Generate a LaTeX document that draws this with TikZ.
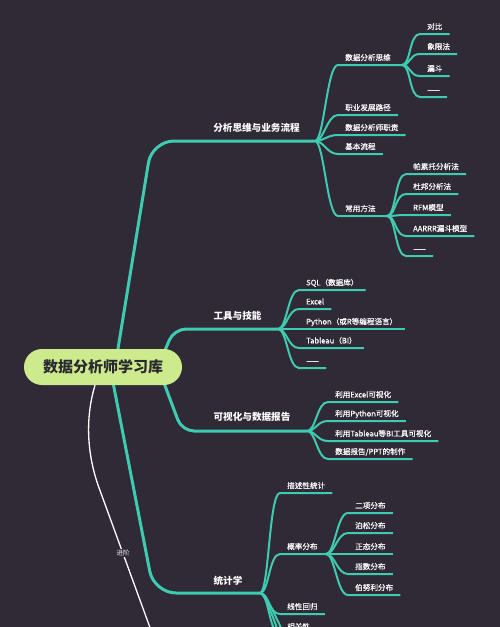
\documentclass[tikz,border=0pt]{standalone}
\usepackage{fontspec}
\setmainfont{Noto Sans CJK SC}
\newfontfamily\leaffont{Noto Sans CJK SC}[FakeBold=0.4]
\usetikzlibrary{backgrounds}
\definecolor{bgc}{HTML}{302936}
\definecolor{mmteal}{HTML}{3ECBB2}
\definecolor{rootfill}{HTML}{CDEA8C}
\definecolor{roottext}{HTML}{2B2930}
\begin{document}
\begin{tikzpicture}[x=1pt,y=-1pt,
  trunk/.style={draw=mmteal,line width=3pt,rounded corners=22pt},
  twig/.style={draw=mmteal,line width=2pt},
  br/.style={out=0,in=180,out distance=9pt,in distance=11pt},
  leaf/.style={anchor=south west,text=white,font=\leaffont\fontsize{7.6}{8}\selectfont,inner xsep=7pt,inner ysep=3.2pt,text height=6.5pt,text depth=1.2pt},
  mainlbl/.style={text=white,font=\bfseries\fontsize{9.6}{11}\selectfont,inner sep=0pt},
  rootbox/.style={fill=rootfill,rounded corners=18pt,minimum width=158pt,minimum height=36pt,text=roottext,font=\bfseries\fontsize{15}{17}\selectfont,inner sep=0pt},
  advlbl/.style={fill=bgc,text=white!90!gray,font=\fontsize{6.5}{7}\selectfont,inner sep=1pt}
]
\useasboundingbox (0,0) rectangle (500,627);
\clip (0,0) rectangle (500,627);

% root
\node[rootbox] (root) at (103,367) {数据分析师学习库};

% main branch labels
\node[mainlbl] (m1) at (256.5,128) {分析思维与业务流程};
\node[mainlbl] (m2) at (237.5,316) {工具与技能};
\node[mainlbl] (m3) at (252,417) {可视化与数据报告};
\node[mainlbl] (m4) at (228,581) {统计学};

% bends and fan points
\coordinate (k1) at (152,141); \coordinate (f1) at (315,141);
\coordinate (k2) at (174,329); \coordinate (f2) at (278,329);
\coordinate (k3) at (182,431); \coordinate (f3) at (307,431);
\coordinate (k4) at (154,593); \coordinate (f4) at (260,593);
\coordinate (f11) at (402,65);
\coordinate (f12) at (387,216);
\coordinate (f41) at (326,554);
\coordinate (adv) at (160,655);
\coordinate (s6) at (300,655);
\coordinate (s7) at (300,676);

% branch 1 children
\node[leaf] (c11) at (338,65) {数据分析思维};
\node[leaf] (c12) at (338,115) {职业发展路径};
\node[leaf] (c13) at (338,135) {数据分析师职责};
\node[leaf] (c14) at (338,154) {基本流程};
\node[leaf] (c15) at (338,216) {常用方法};
\node[leaf] (g11) at (420,34) {对比};
\node[leaf] (g12) at (420,54) {象限法};
\node[leaf] (g13) at (420,76) {漏斗};
\node[leaf] (g14) at (420,97) {——};
\node[leaf] (g21) at (406,174) {帕累托分析法};
\node[leaf] (g22) at (406,194) {杜邦分析法};
\node[leaf] (g23) at (406,215) {RFM模型};
\node[leaf] (g24) at (406,236) {AARRR漏斗模型};
\node[leaf] (g25) at (406,256) {——};

% tools
\node[leaf] (t1) at (299,290) {SQL（数据库）};
\node[leaf] (t2) at (299,309) {Excel};
\node[leaf] (t3) at (299,329) {Python（或R等编程语言）};
\node[leaf] (t4) at (299,348) {Tableau（BI）};
\node[leaf] (t5) at (299,368) {——};

% visualisation
\node[leaf] (v1) at (328,402) {利用Excel可视化};
\node[leaf] (v2) at (328,421) {利用Python可视化};
\node[leaf] (v3) at (328,441) {利用Tableau等BI工具可视化};
\node[leaf] (v4) at (328,459) {数据报告/PPT的制作};

% statistics
\node[leaf] (s1) at (280,493) {描述性统计};
\node[leaf] (s2) at (280,554) {概率分布};
\node[leaf] (s3) at (280,614) {线性回归};
\node[leaf] (s4) at (280,634) {相关性};
\node[leaf] (p1) at (348,513) {二项分布};
\node[leaf] (p2) at (348,533) {泊松分布};
\node[leaf] (p3) at (348,554) {正态分布};
\node[leaf] (p4) at (348,574) {指数分布};
\node[leaf] (p5) at (348,595) {伯努利分布};

\node[advlbl] (advl) at (123,553) {进阶};

\begin{pgfonlayer}{background}
\fill[bgc] (0,0) rectangle (500,627);
% trunks
\draw[trunk] ([xshift=12pt]root.center) -- (k1) -- (f1);
\draw[trunk,rounded corners=12pt] ([xshift=55pt]root.center) -- (k2) -- (f2);
\draw[trunk,rounded corners=12pt] ([xshift=55pt]root.center) -- (k3) -- (f3);
\draw[trunk] ([xshift=7pt]root.center) -- (k4) -- (f4);
\draw[white,line width=1.3pt] ([xshift=-8pt]root.south) .. controls (86,415) and (86,450) .. (98,485) -- (adv);
% branch 1
\draw[twig] (f1) to[br] (c11.south west) -- (f11);
\foreach \n in {c12,c13,c14} \draw[twig] (f1) to[br] (\n.south west) -- (\n.south east);
\draw[twig] (f1) to[br] (c15.south west) -- (f12);
\foreach \n in {g11,g12,g13,g14} \draw[twig] (f11) to[br] (\n.south west) -- (\n.south east);
\foreach \n in {g21,g22,g23,g24,g25} \draw[twig] (f12) to[br] (\n.south west) -- (\n.south east);
% tools
\foreach \n in {t1,t2,t3,t4,t5} \draw[twig] (f2) to[br] (\n.south west) -- (\n.south east);
% vis
\foreach \n in {v1,v2,v3,v4} \draw[twig] (f3) to[br] (\n.south west) -- (\n.south east);
% stats
\foreach \n in {s1,s3,s4} \draw[twig] (f4) to[br] (\n.south west) -- (\n.south east);
\draw[twig] (f4) to[br] (s2.south west) -- (f41);
\draw[twig] (f4) to[br] (s6);
\draw[twig] (f4) to[br] (s7);
\foreach \n in {p1,p2,p3,p4,p5} \draw[twig] (f41) to[br] (\n.south west) -- (\n.south east);
\end{pgfonlayer}
\end{tikzpicture}
\end{document}
